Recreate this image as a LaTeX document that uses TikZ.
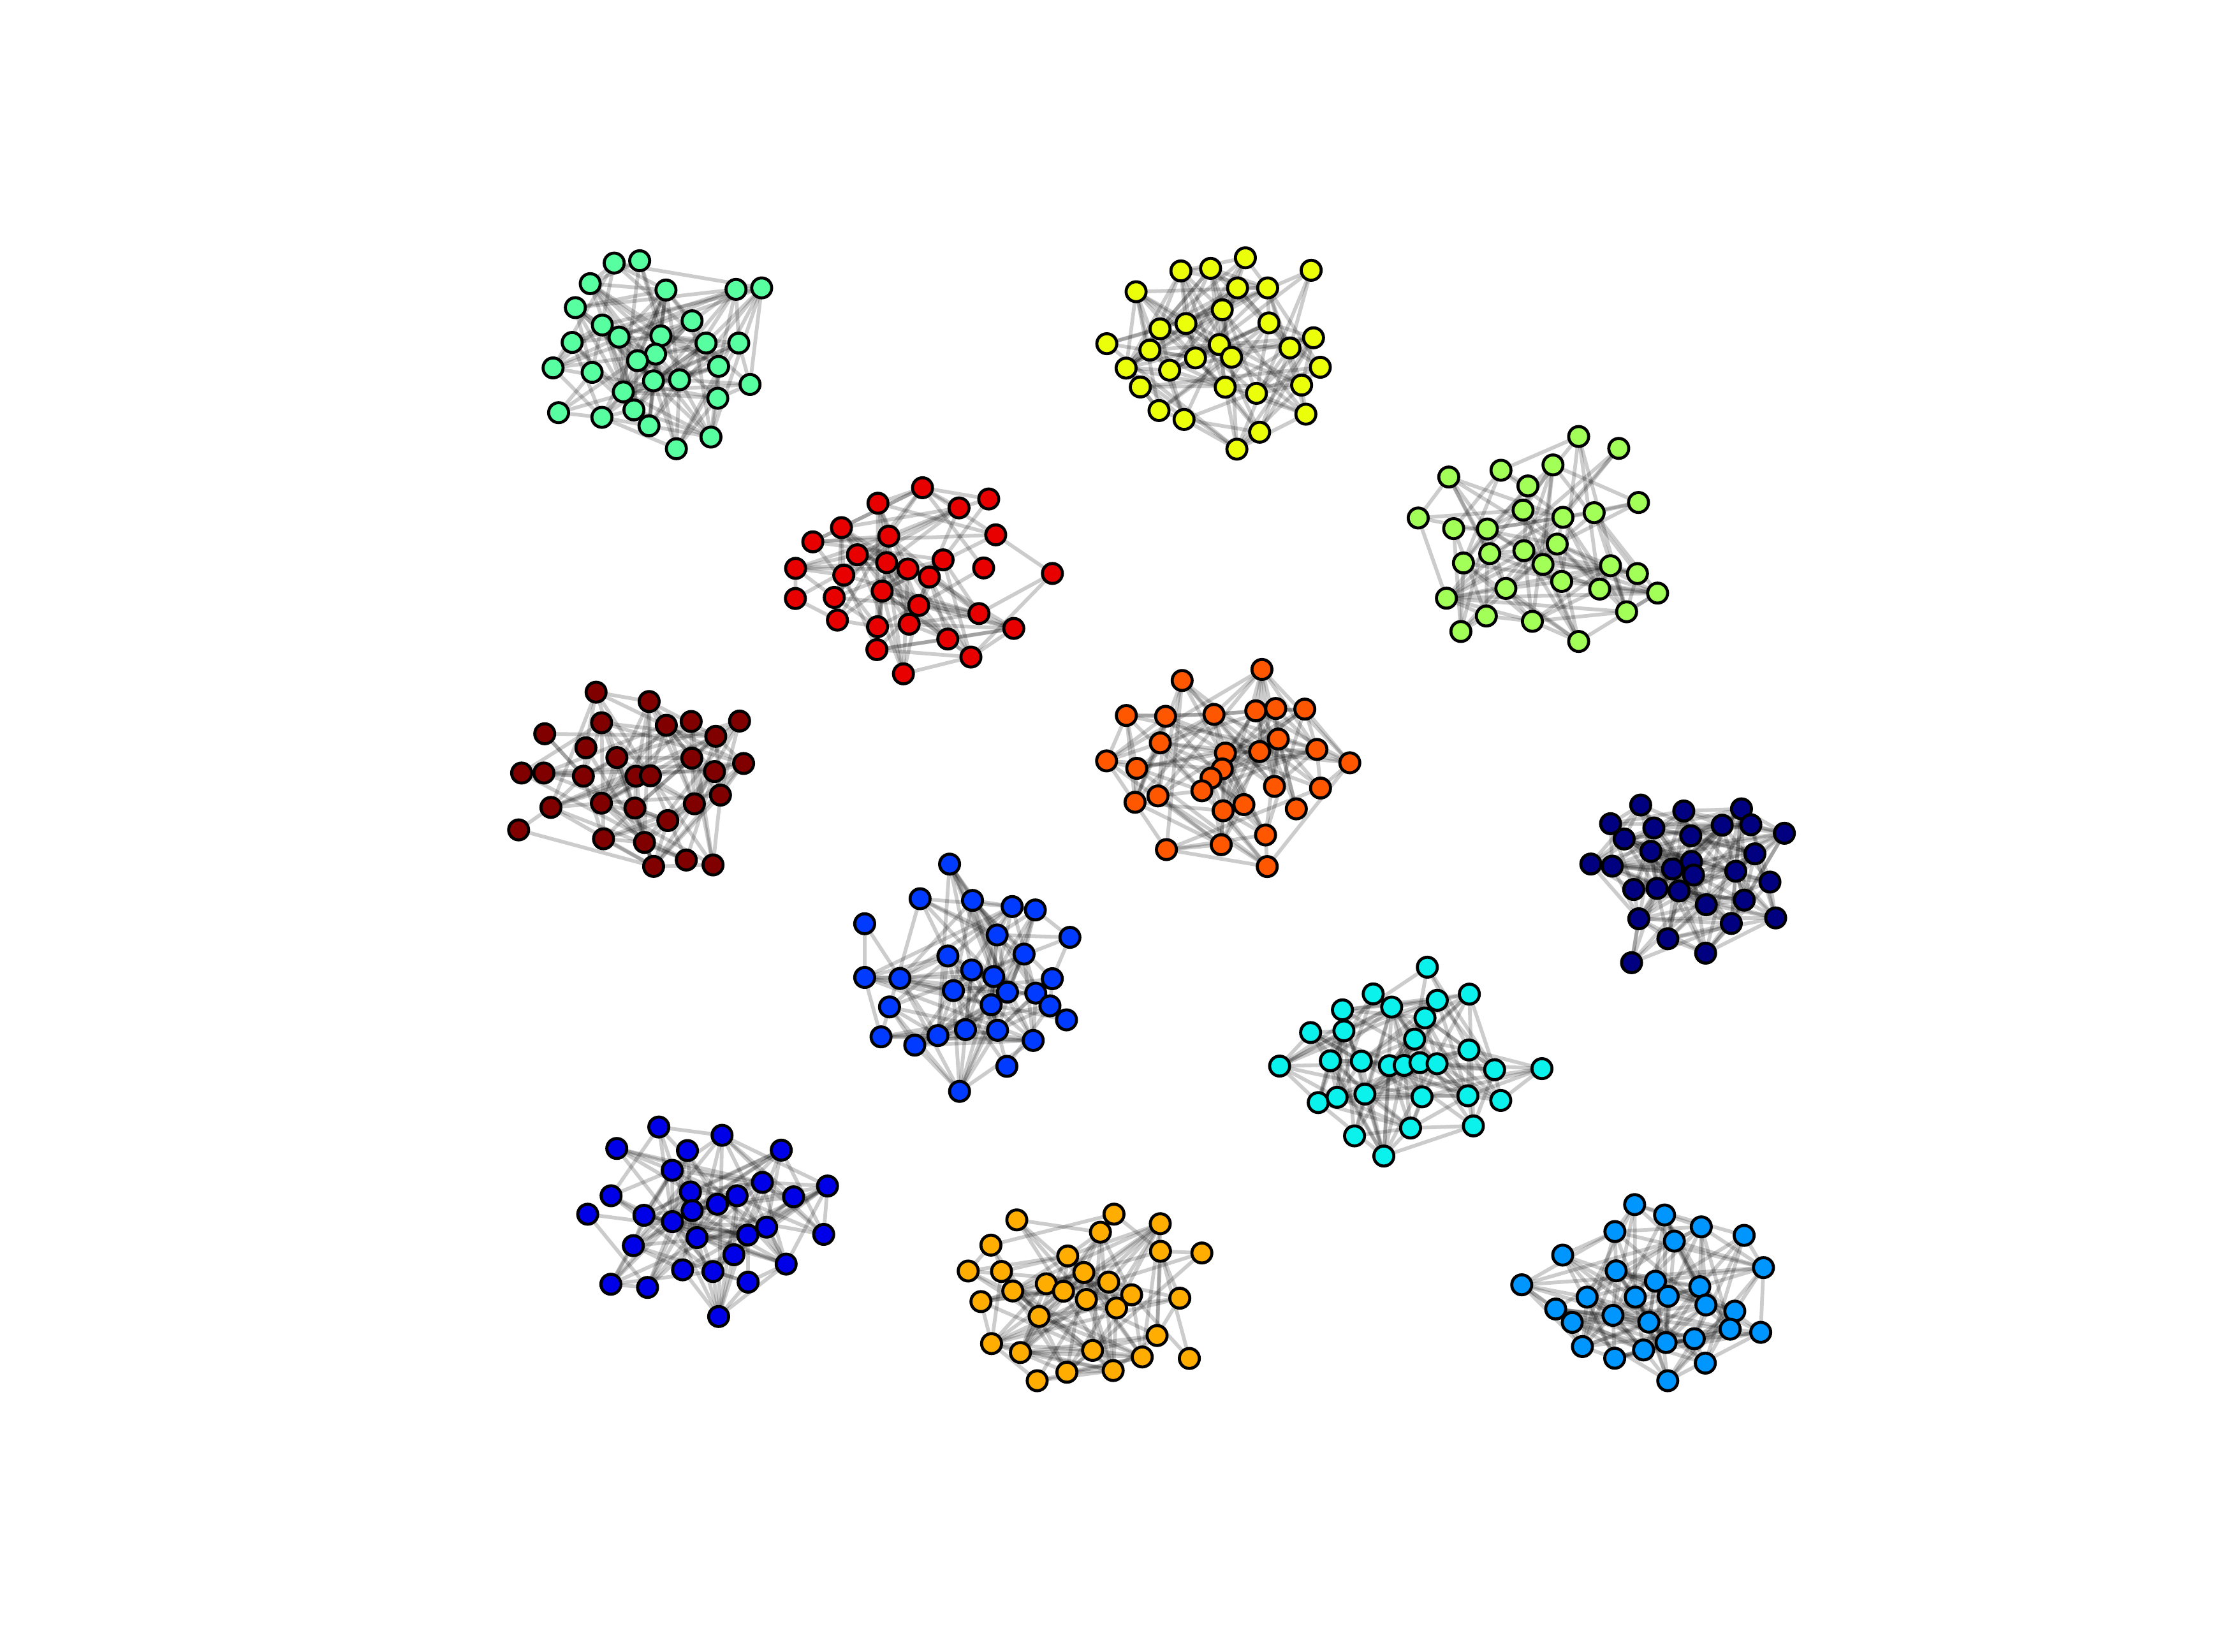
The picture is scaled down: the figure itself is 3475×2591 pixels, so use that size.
\documentclass[tikz,border=0pt]{standalone}
\pgfdeclarelayer{edges}
\pgfsetlayers{edges,main}
\definecolor{jA}{rgb}{0,0,0.5}
\definecolor{jB}{rgb}{0,0,0.91}
\definecolor{jC}{rgb}{0,0.23,1}
\definecolor{jD}{rgb}{0,0.59,1}
\definecolor{jE}{rgb}{0.04,0.95,0.92}
\definecolor{jF}{rgb}{0.34,1,0.63}
\definecolor{jG}{rgb}{0.63,1,0.34}
\definecolor{jH}{rgb}{0.92,1,0.04}
\definecolor{jI}{rgb}{1,0.68,0}
\definecolor{jJ}{rgb}{1,0.34,0}
\definecolor{jK}{rgb}{0.91,0,0}
\definecolor{jL}{rgb}{0.5,0,0}
\tikzset{
  dot/.style={circle,draw=black,line width=1.34pt,minimum size=0.313cm,inner sep=0pt,outer sep=0pt},
  edge/.style={draw=black,opacity=0.2,line width=1.65pt}
}
\newcommand\mycluster[5]{%
  \begin{scope}[shift={(#2,#3)},x=0.0033333cm,y=-0.0033333cm]
    \foreach [count=\i] \a/\b in {#5} \node[dot,fill=#4] (#1n\i) at (\a,\b) {};
    \begin{pgfonlayer}{edges}
      \foreach [count=\i] \a/\b in {#5} {
        \foreach [count=\j] \c/\d in {#5} {
          \ifnum\j>\i
            \pgfmathsetmacro\dd{veclen(\c-\a,\d-\b)}
            \pgfmathsetmacro\pp{0.75*exp(-\dd/450)}
            \pgfmathtruncatemacro\ok{rnd<\pp}
            \ifnum\ok=1 \draw[edge] (#1n\i) -- (#1n\j);\fi
          \fi
        }
      }
    \end{pgfonlayer}
  \end{scope}}
\begin{document}
\begin{tikzpicture}[x=0.01cm,y=-0.01cm]
\pgfmathsetseed{7}
\useasboundingbox (0,0) rectangle (3475,2591);
% green
\mycluster{F}{840}{375}{jF}{370/113,490/102,257/210,614/240,944/237,1065/230,187/323,737/385,314/405,393/462,590/456,172/487,803/490,957/490,565/542,480/573,82/607,266/628,862/600,555/668,678/663,1010/685,413/720,858/750,463/805,108/818,312/840,534/880,826/933,663/988}
% yellow
\mycluster{H}{1705}{375}{jH}{745/88,1055/147,441/150,581/138,708/230,850/230,230/248,636/333,465/398,856/395,343/423,1066/465,92/493,622/497,295/523,955/513,680/557,510/560,183/608,388/618,1098/604,250/697,650/698,797/727,1010/688,338/808,456/850,1030/825,812/910,705/990}
% yellowgreen
\mycluster{G}{2190}{650}{jG}{858/104,1047/160,737/238,492/263,246/295,619/337,1140/415,596/451,102/488,784/485,931/463,269/538,428/540,757/611,600/642,439/656,315/700,690/707,1008/713,1135/750,778/787,515/820,957/823,1230/842,235/866,423/950,640/975,1084/930,303/1023,858/1070}
% red
\mycluster{K}{1215}{735}{jK}{696/90,1008/143,486/163,868/185,314/278,537/318,1041/312,179/345,389/406,527/443,793/430,98/470,627/473,984/468,325/502,728/511,1308/494,97/612,280/607,506/577,678/645,962/683,295/714,484/745,633/733,1126/753,815/803,481/853,924/888,606/967}
% maroon
\mycluster{L}{778}{1055}{jL}{471/92,721/136,497/236,802/248,919/230,1147/228,229/288,1035/300,423/354,569/400,922/403,1166/428,120/473,225/473,411/488,659/488,727/486,1029/466,1057/577,258/635,496/615,654/638,934/618,809/697,106/741,506/783,699/800,742/913,896/883,1022/906}
% orange-red
\mycluster{J}{1705}{1018}{jJ}{823/96,447/148,184/313,369/317,597/308,794/291,888/280,1025/283,344/442,900/424,651/490,812/483,1082/473,91/527,233/562,636/565,583/608,1237/536,540/668,882/647,1099/655,225/722,333/692,640/762,738/733,985/753,840/876,373/945,631/922,848/1025}
% navy
\mycluster{A}{2458}{1232}{jA}{345/92,548/120,820/110,203/180,407/200,729/187,864/185,1022/225,267/252,581/237,393/310,883/322,110/370,211/380,584/358,495/393,594/422,793/404,954/455,312/490,422/485,526/497,654/562,833/540,981/624,336/628,772/650,473/722,651/790,302/835}
% medium blue
\mycluster{C}{1316}{1323}{jC}{520/97,381/260,628/268,815/297,924/313,120/378,744/431,1087/442,512/530,871/521,624/596,728/627,120/631,286/636,1004/637,538/693,793/700,926/705,993/765,237/770,716/760,1071/831,595/877,746/880,197/911,356/950,465/905,914/928,790/1050,567/1168}
% cyan
\mycluster{E}{1970}{1483}{jE}{806/102,551/228,1004/229,638/290,853/258,406/303,795/341,256/410,413/402,746/441,1002/492,110/568,349/543,495/545,627/566,697/565,771/552,852/557,1123/585,1346/580,292/740,381/715,512/700,781/713,997/708,1152/730,727/860,1023/850,463/897,601/992}
% blue
\mycluster{B}{884}{1733}{jB}{448/104,746/143,250/205,583/215,1025/213,511/308,936/365,1243/382,223/428,597/410,817/428,1083/433,113/515,378/520,605/498,724/468,512/550,956/576,867/613,1225/610,628/625,328/663,802/706,1048/750,560/777,703/785,222/845,395/860,869/835,730/997}
% orange
\mycluster{I}{1483}{1871}{jI}{793/100,335/127,1011/145,729/185,213/246,1012/275,1207/283,575/297,106/368,263/370,651/375,768/420,474/428,555/463,316/462,876/480,166/512,663/502,1103/496,805/542,440/582,996/672,216/710,352/752,692/742,926/773,1148/780,789/837,571/845,431/885}
% dodger
\mycluster{D}{2354}{1860}{jD}{629/88,770/137,943/193,536/215,1145/233,816/260,290/326,1236/385,542/400,727/449,936/475,97/466,405/524,632/524,787/520,965/561,257/580,1101/590,335/643,527/610,696/642,1079/675,1223/690,777/738,910/720,383/757,535/812,671/773,962/835,785/918}
\end{tikzpicture}
\end{document}
